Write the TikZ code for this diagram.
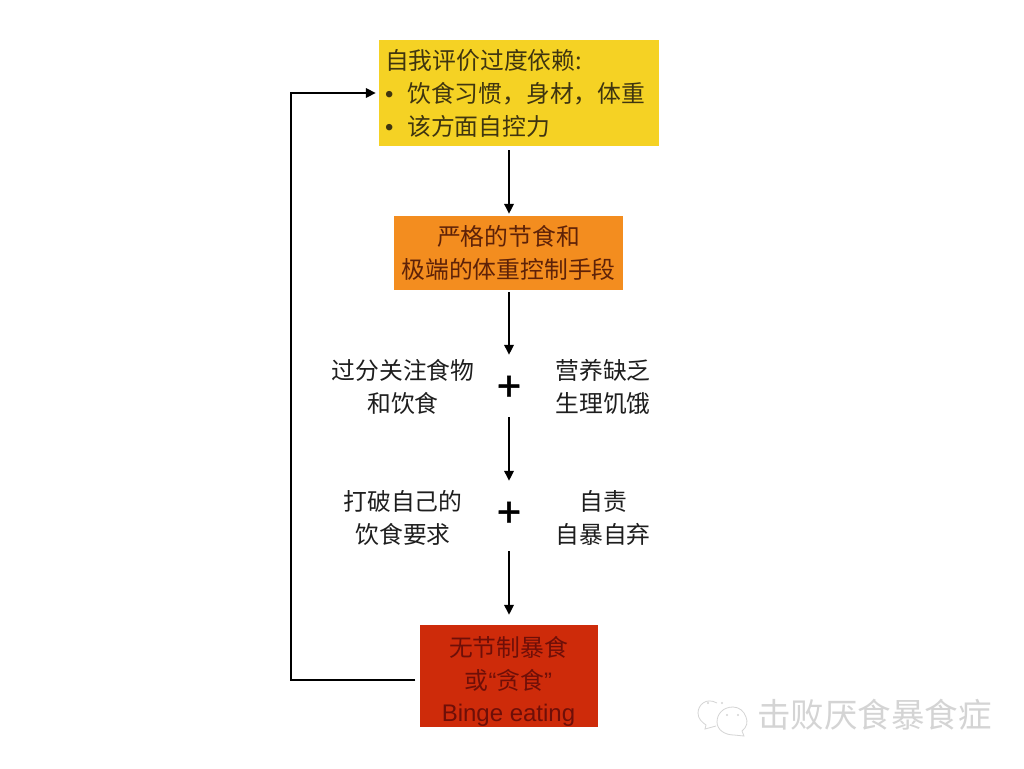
\documentclass[tikz,border=0pt]{standalone}
\usepackage{fontspec}
\newfontfamily\cjk{Noto Sans CJK SC}
\newfontfamily\latn{Liberation Sans}
\newfontfamily\plusfont[FakeBold=1.2]{Liberation Sans}
\usetikzlibrary{arrows.meta,calc}
\definecolor{yboxc}{HTML}{F5D224}
\definecolor{oboxc}{HTML}{F38D1F}
\definecolor{rboxc}{HTML}{CE2B0A}
\definecolor{ytext}{HTML}{3F3510}
\definecolor{otext}{HTML}{5E2208}
\definecolor{rtext}{HTML}{6E0F08}
\definecolor{ltext}{HTML}{1E1E1E}
\definecolor{wmark}{HTML}{D4D4D4}
\newcommand{\fwcomma}{\symbol{"FF0C}}
\tikzset{
  boxnode/.style={inner sep=0pt,align=center,font=\cjk\fontsize{23.8}{32.8}\selectfont},
  plain/.style={inner sep=0pt,align=center,text=ltext,font=\cjk\fontsize{23.8}{32.3}\selectfont},
  plusnode/.style={inner sep=0pt,minimum width=40pt,minimum height=62pt,text=black,font=\plusfont\fontsize{42}{42}\selectfont},
  flow/.style={draw=black,line width=1.7pt,-{Triangle[length=10pt,width=9.5pt]}},
  wmline/.style={draw=wmark,line width=0.8pt}
}
\begin{document}
\begin{tikzpicture}[x=1pt,y=-1pt]
\useasboundingbox[fill=white] (0,0) rectangle (1024,768);
\node[boxnode,fill=yboxc,text=ytext,minimum width=280pt,minimum height=106pt,align=left] (self) at (519,93)
  {\makebox[268pt][l]{\rule{0pt}{21pt}自我评价过度依赖:}\\
   {\latn •}\hspace{14pt}饮食习惯\fwcomma 身材\fwcomma 体重\\
   {\latn •}\hspace{14pt}该方面自控力};
\node[boxnode,fill=oboxc,text=otext,minimum width=229pt,minimum height=74pt] (diet) at (508.5,253)
  {严格的节食和\\极端的体重控制手段};
\node[boxnode,fill=rboxc,text=rtext,minimum width=178pt,minimum height=102pt] (binge) at (508.5,676)
  {\rule{0pt}{31pt}无节制暴食\\或{\latn “}贪食{\latn ”}\\{\latn\fontsize{24}{32}\selectfont Binge eating}};
\node[plusnode] (plusa) at (509,386) {\raisebox{-14pt}[0pt][0pt]{+}};
\node[plusnode] (plusb) at (509,512) {\raisebox{-14pt}[0pt][0pt]{+}};
\node[plain] (la) at (403,387) {过分关注食物\\和饮食};
\node[plain] (ra) at (603,387) {营养缺乏\\生理饥饿};
\node[plain] (lb) at (403,518) {打破自己的\\饮食要求};
\node[plain] (rb) at (603,518) {自责\\自暴自弃};
\coordinate (backa) at (291,680);
\coordinate (backb) at (291,93);
\draw[flow,shorten <=4pt,shorten >=2pt] (self.south -| plusa) -- (diet.north -| plusa);
\draw[flow,shorten <=2pt] (diet.south -| plusa) -- (plusa.north);
\draw[flow] (plusa.south) -- (plusb.north);
\draw[flow,shorten <=8pt,shorten >=10pt] (plusb.south) -- (binge.north -| plusb);
\draw[flow,shorten <=4pt,shorten >=3pt] (binge.west |- backa) -- (backa) -- (backb) -- (self.west |- backb);
% watermark
\node[inner sep=0pt,text=wmark,font=\cjk\fontsize{33.5}{33.5}\selectfont] (wm) at (874.5,715) {击败厌食暴食症};
\draw[wmline] (717,703) .. controls (706,697) and (698,705) .. (698,713) .. controls (698,719) and (702,722) .. (706,725) -- (705,729) -- (716,726);
\draw[wmline] (733,707) .. controls (723,707) and (717,714) .. (717,722) .. controls (717,730) and (725,735) .. (734,735) -- (744,736) -- (742,731) .. controls (747,727) and (748,722) .. (746,717) .. controls (744,711) and (739,707) .. (733,707);
\fill[wmark] (708,703) circle (1.2pt) (722,703) circle (1.2pt) (727,715) circle (1.2pt) (738,715) circle (1.2pt);
\end{tikzpicture}
\end{document}
